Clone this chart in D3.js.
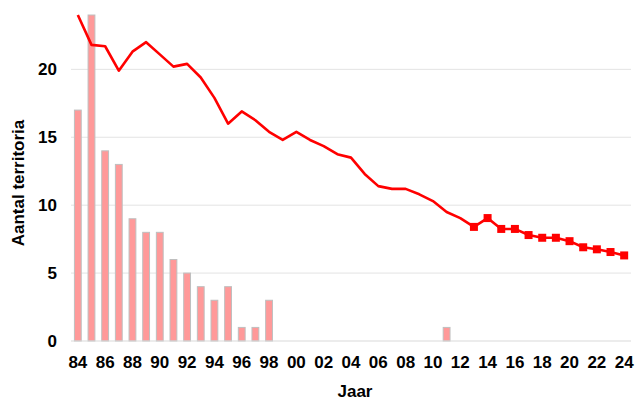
<!DOCTYPE html>
<html><head><meta charset="utf-8">
<script src="https://cdn.jsdelivr.net/npm/d3@7"></script>
<style>body{margin:0;background:#fff}text{font-family:"Liberation Sans",Arial,sans-serif;font-weight:bold;fill:#000}</style>
</head><body><svg id="c" width="642" height="403"></svg>
<script>
const years = ["84","85","86","87","88","89","90","91","92","93","94","95","96","97","98","99","00","01","02","03","04","05","06","07","08","09","10","11","12","13","14","15","16","17","18","19","20","21","22","23","24"];
const barValues = [17,24,14,13,9,8,8,6,5,4,3,4,1,1,3,0,0,0,0,0,0,0,0,0,0,0,0,1,0,0,0,0,0,0,0,0,0,0,0,0,0];
const lineValues = [24,21.8,21.7,19.9,21.3,22.0,21.1,20.2,20.4,19.4,17.9,16.0,16.9,16.25,15.4,14.8,15.4,14.8,14.35,13.75,13.5,12.3,11.4,11.2,11.2,10.8,10.3,9.5,9.05,8.4,9.05,8.25,8.25,7.8,7.6,7.6,7.35,6.9,6.75,6.55,6.3];
const markerYears = ["13","14","15","16","17","18","19","20","21","22","23","24"];
const yTicks = [0,5,10,15,20];
const xTickLabels = years.filter((d,i)=>i%2===0);

const svg = d3.select("#c");
const m = {l:71, r:11, t:15, b:62};
const W = 642, H = 403;
const x = d3.scaleBand().domain(years).range([m.l, W-m.r]).paddingInner(0.5).paddingOuter(0.25);
const y = d3.scaleLinear().domain([0,24]).range([H-m.b, m.t]);
const cx = d => x(d)+x.bandwidth()/2;

// gridlines
svg.append("g").selectAll("line").data(yTicks.filter(d=>d>0)).join("line")
  .attr("x1", m.l).attr("x2", W-m.r).attr("y1", d=>y(d)).attr("y2", d=>y(d))
  .attr("stroke","#e3e3e3").attr("stroke-width",1);

// bars
svg.append("g").selectAll("rect").data(years.map((d,i)=>({k:d,v:barValues[i]})).filter(d=>d.v>0)).join("rect")
  .attr("x", d=>x(d.k)).attr("width", x.bandwidth())
  .attr("y", d=>y(d.v)).attr("height", d=>y(0)-y(d.v))
  .attr("fill","#ff9999").attr("stroke","#bfbfbf").attr("stroke-width",1);

// baseline
svg.append("line").attr("x1", m.l).attr("x2", W-m.r).attr("y1", y(0)).attr("y2", y(0))
  .attr("stroke","#d9d9d9").attr("stroke-width",1);

// line
const pts = years.map((d,i)=>({k:d,v:lineValues[i]}));
svg.append("path").datum(pts)
  .attr("d", d3.line().x(d=>cx(d.k)).y(d=>y(d.v)))
  .attr("fill","none").attr("stroke","#ff0000").attr("stroke-width",2.6).attr("stroke-linejoin","round");

// markers
svg.append("g").selectAll("rect").data(pts.filter(d=>markerYears.includes(d.k))).join("rect")
  .attr("x", d=>cx(d.k)-4).attr("y", d=>y(d.v)-4).attr("width",8).attr("height",8)
  .attr("fill","#ff0000");

// y axis labels
const yAxis = d3.axisLeft(y).tickValues(yTicks).tickSize(0).tickPadding(14);
const gy = svg.append("g").attr("transform",`translate(${m.l},0)`).call(yAxis);
gy.select(".domain").remove();
gy.selectAll("text").style("font-size","17px").style("font-family","Liberation Sans, Arial, sans-serif").style("font-weight","bold").attr("fill","#000");

// x axis labels
const xAxis = d3.axisBottom(x).tickValues(xTickLabels).tickSize(0).tickPadding(15);
const gx = svg.append("g").attr("transform",`translate(0,${y(0)})`).call(xAxis);
gx.select(".domain").remove();
gx.selectAll("text").style("font-size","17px").style("font-family","Liberation Sans, Arial, sans-serif").style("font-weight","bold").attr("fill","#000");

// titles
svg.append("text").attr("x", 355).attr("y", 397).attr("text-anchor","middle").style("font-size","17px").text("Jaar");
svg.append("text").attr("transform","translate(24,183) rotate(-90)").attr("text-anchor","middle").style("font-size","17px").text("Aantal territoria");
</script></body></html>
